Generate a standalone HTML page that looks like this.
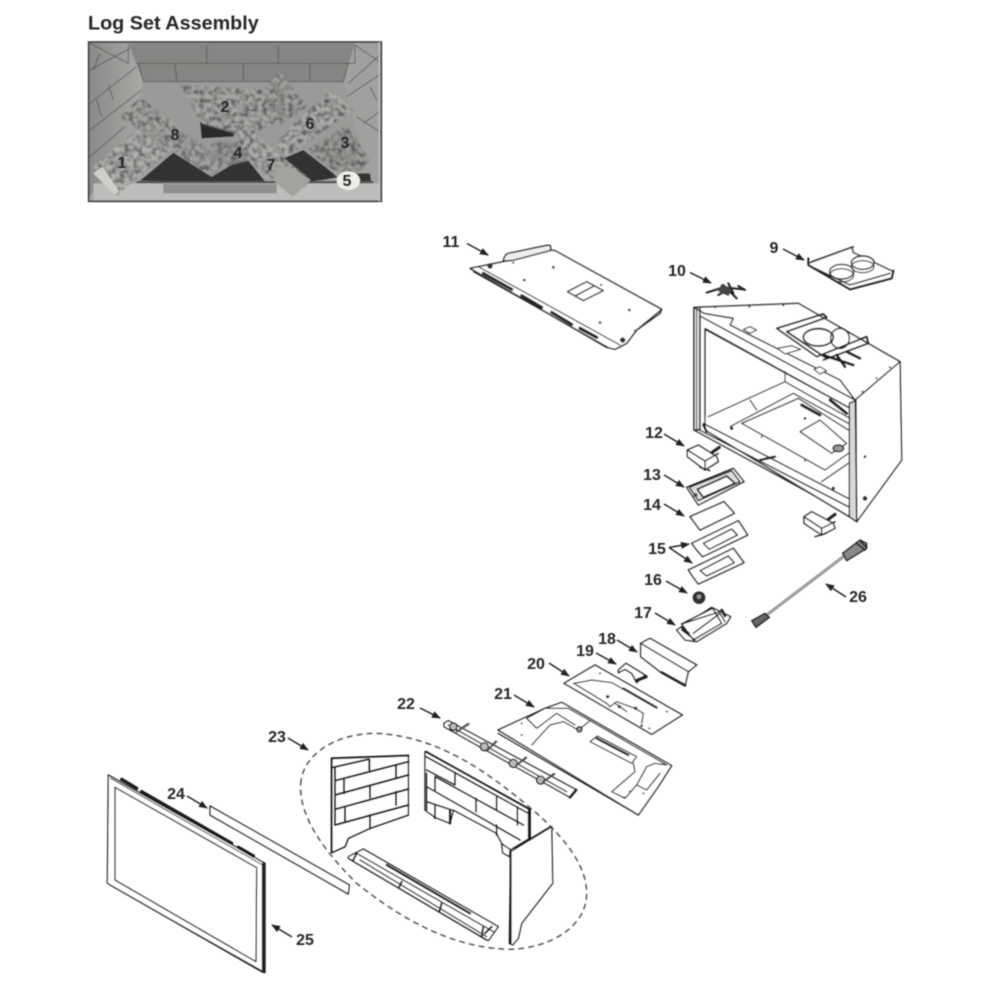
<!DOCTYPE html>
<html><head><meta charset="utf-8"><style>
html,body{margin:0;padding:0;background:#fff}
svg{display:block}
text{font-family:"Liberation Sans",sans-serif;font-weight:bold;fill:#262626}
</style></head><body>
<svg width="1000" height="1000" viewBox="0 0 1000 1000" xmlns="http://www.w3.org/2000/svg">
<defs>
<filter id="b" x="-5%" y="-5%" width="110%" height="110%"><feGaussianBlur stdDeviation="0.6"/></filter>
<filter id="tb" x="-5%" y="-5%" width="110%" height="110%"><feGaussianBlur stdDeviation="0.4"/></filter>
<filter id="tex" x="0" y="0" width="100%" height="100%">
<feTurbulence type="fractalNoise" baseFrequency="0.075" numOctaves="2" seed="7" result="n"/>
<feColorMatrix in="n" type="matrix" values="0 0 0 0 0.1 0 0 0 0 0.1 0 0 0 0 0.1 3 0 0 0 -1.15" result="d"/>
<feComposite in="d" in2="SourceAlpha" operator="in" result="c"/>
<feMerge><feMergeNode in="SourceGraphic"/><feMergeNode in="c"/></feMerge>
<feGaussianBlur stdDeviation="2.2"/>
</filter>
<clipPath id="ph"><rect x="25" y="95" width="880" height="480"/></clipPath>
<marker id="a" markerWidth="9" markerHeight="7" refX="8" refY="3.5" orient="auto" markerUnits="userSpaceOnUse"><path d="M0 0L9 3.5L0 7Z" fill="#222"/></marker>
<linearGradient id="lw" x1="0" x2="1" y1="0" y2="0"><stop offset="0" stop-color="#8a8a88"/><stop offset="1" stop-color="#a8a8a6"/></linearGradient>
</defs>
<rect width="1000" height="1000" fill="#fff"/>

<g filter="url(#b)">
<!-- PHOTO -->
<g transform="translate(80,10) scale(.33333)">
<g clip-path="url(#ph)">
<rect x="25" y="95" width="880" height="480" fill="#a2a2a0"/>
<polygon points="145,100 825,100 790,215 190,215" fill="#858583"/>
<polygon points="25,95 145,100 190,215 185,420 25,560" fill="url(#lw)"/>
<polygon points="825,100 905,95 905,560 790,400 790,215" fill="#a0a09e"/>
<polygon points="190,215 790,215 860,480 130,480" fill="#9a9a98"/>
<g stroke="#4e4e4e" stroke-width="3" fill="none" opacity=".7">
<path d="M145 105V160M170 160H825M380 105V160M595 105V160M825 105V160M175 160L190 215H790L805 160M285 160L290 212M490 160V212M690 160V212"/>
<path d="M30 100L145 160M30 180L150 115M30 280L170 170M30 360L185 240M30 440L135 350M60 130L40 180M85 225L100 270M65 320L50 270"/>
<path d="M825 105L905 160M805 220L905 130M800 260L905 190M850 340L905 300M905 370L830 320M890 270L870 230"/>
</g>
<polygon points="180,512 280,428 395,500 495,440 520,470 560,520" fill="#303030"/>
<polygon points="610,445 670,420 760,490 800,530 875,525 870,490 835,490 730,510 680,515" fill="#303030"/>
<polygon points="360,335 465,352 460,380 365,385" fill="#2c2c2c"/>
<rect x="170" y="513" width="710" height="8" fill="#555"/>
<rect x="40" y="520" width="860" height="50" fill="#bdbdbb"/>
<rect x="250" y="522" width="340" height="28" fill="#8f8f8d"/>
<g filter="url(#tex)">
<polygon points="300,225 560,240 595,330 510,385 365,340" fill="#a8a8a6"/>
<polygon points="555,235 600,185 680,290 600,345 550,300" fill="#a0a09e"/>
<polygon points="680,420 800,345 870,450 835,490 760,480" fill="#9c9c9a"/>
<polygon points="390,400 470,390 515,450 430,470" fill="#989896"/>
<polygon points="40,470 170,360 270,420 110,555" fill="#b0b0ae"/>
<polygon points="120,320 180,262 440,460 395,500" fill="#a4a4a2"/>
<polygon points="580,400 750,240 822,300 620,440" fill="#aeaeac"/>
<polygon points="460,370 490,345 692,510 640,560 515,460" fill="#aeaeac"/>
</g>
<polygon points="40,490 68,470 118,545 105,555" fill="#cfcfc7"/>
<polygon points="590,470 630,470 690,510 640,560 580,510" fill="#a2a29f"/>
<ellipse cx="805" cy="512" rx="35" ry="28" fill="#eeeeea"/>
</g>
<rect x="26" y="96" width="878" height="478" fill="none" stroke="#3e3e3e" stroke-width="5"/>
<path d="M898 96V574" stroke="#c4c4c4" stroke-width="4"/>
</g>

<!-- TOP PARTS (zoom 2 coords) -->
<g transform="translate(440,230) scale(.33333)" fill="#fff" stroke="#1f1f1f" stroke-width="4" stroke-linejoin="round" stroke-linecap="round">
<!-- 11 -->
<polygon points="90,115 190,95 330,60 345,62 665,238 590,300 560,340 525,358 500,352"/>
<path d="M190 93C192 78 198 72 205 70L325 45C333 45 334 55 330 62L215 92Z" fill="#eee"/>
<path d="M115 110L540 345M100 125L510 355" fill="none" stroke-width="3"/>
<path d="M130 130L215 178M245 197L305 232M335 247L395 283M420 295L470 322" fill="none" stroke="#222" stroke-width="9"/>
<polygon points="382,185 440,155 490,182 430,212" fill="#fff"/>
<path d="M405 198L462 168" fill="none"/>
<path d="M665 238L660 250L590 300" fill="none"/>
<g fill="#333" stroke="none"><circle cx="340" cy="112" r="4"/><circle cx="253" cy="150" r="4"/><circle cx="568" cy="240" r="4"/><circle cx="480" cy="278" r="4"/><circle cx="483" cy="165" r="3"/><circle cx="220" cy="98" r="3"/><circle cx="585" cy="302" r="3"/><circle cx="150" cy="108" r="8"/><circle cx="548" cy="330" r="8"/></g>

<!-- 9 -->
<path d="M1105 100L1235 52L1240 68L1360 125L1355 145L1230 178L1105 105Z"/>
<path d="M1105 85V105L1230 178L1355 145L1360 122" fill="none" stroke-width="6"/>
<ellipse cx="1205" cy="125" rx="36" ry="22"/><ellipse cx="1205" cy="136" rx="36" ry="20" fill="none" stroke-width="3"/>
<ellipse cx="1268" cy="98" rx="34" ry="20"/><ellipse cx="1268" cy="110" rx="34" ry="18" fill="none" stroke-width="3"/>
<path d="M1115 95L1240 50M1125 115L1230 165L1350 130" fill="none"/>

<!-- 10 -->
<g fill="none" stroke-width="6"><path d="M800 188L850 172L910 178M850 165L890 205M865 160L880 190M835 195L870 175M895 168L915 180"/></g>
<rect x="838" y="168" width="34" height="24" fill="#444" stroke="none" transform="rotate(25 855 180)"/>

<!-- Firebox -->
<path d="M762 232L1075 220L1380 395L1385 690L1250 875L1240 860L762 600Z"/>
<path d="M1245 510L1380 395M1248 510L1250 875" fill="none"/>
<rect x="762" y="232" width="18" height="368" fill="#e4e4e4"/>
<path d="M770 240V600" stroke-width="2.5" fill="none"/>
<polygon points="795,298 1240,540 1228,860 795,600" fill="#fff"/>
<path d="M780 258L1245 510M795 295L1240 540M790 580L1225 805M775 598L1225 830M762 232L792 250L880 265L870 285L1200 450L1230 490L1245 510M780 258V600M795 295V560" fill="none"/>
<polygon points="1228,520 1246,512 1250,875 1228,860" fill="#d8d8d8"/>
<path d="M1035 425V455M805 560L1035 455L1230 565M1060 490L870 590M1060 490L1225 580M905 580L1075 505L1225 600M905 580L1155 720L1225 670M1080 605L1140 570L1220 640L1175 670ZM930 510L950 540M1145 755L1225 700" fill="none" stroke-width="3.5"/>
<path d="M1085 525L1140 555M1170 510L1220 550" fill="none" stroke="#222" stroke-width="9"/>
<ellipse cx="1195" cy="655" rx="16" ry="10" fill="#999"/>
<path d="M790 585L800 605M960 690L1005 680" fill="none" stroke-width="7"/>
<!-- top detail -->
<path d="M1010 295L1150 252L1160 262L1040 305M1130 380L1280 320L1285 340L1150 390M1010 295L1130 380M1040 305L1160 385" fill="none" stroke-width="5"/>
<ellipse cx="1135" cy="322" rx="45" ry="26" fill="none" stroke-width="5"/><ellipse cx="1200" cy="325" rx="28" ry="30" fill="none"/>
<path d="M1150 375L1240 405M1190 375L1215 410M1220 365L1260 385" fill="none" stroke-width="8"/>
<polygon points="1012,355 1055,347 1082,358 1035,372" stroke-width="3"/>
<polygon points="910,298 930,290 950,300 930,310" stroke-width="3"/>
<polygon points="1122,418 1140,410 1160,422 1140,432" stroke-width="3"/>
<g fill="#333" stroke="none"><circle cx="825" cy="232" r="3"/><circle cx="928" cy="230" r="3"/><circle cx="1030" cy="226" r="3"/><circle cx="1350" cy="412" r="3"/><circle cx="1275" cy="680" r="4"/><circle cx="1275" cy="805" r="7"/><circle cx="1310" cy="445" r="3"/><circle cx="1268" cy="485" r="3"/><circle cx="1095" cy="565" r="4"/><circle cx="1095" cy="692" r="3"/><circle cx="965" cy="620" r="3"/><circle cx="875" cy="595" r="5"/><circle cx="1180" cy="775" r="5"/></g>

<!-- 12 -->
<path d="M742 660L775 645L830 680L835 695L795 720L742 680Z"/>
<path d="M742 660L795 693L835 670M795 693V718M780 712L810 722" fill="none"/>
<path d="M815 668L838 652" fill="none" stroke="#222" stroke-width="9"/>
<!-- 13 -->
<polygon points="740,772 880,715 912,755 775,825" />
<polygon points="748,772 875,722 900,755 775,812" fill="#ddd"/>
<polygon points="772,778 860,738 885,760 790,802" fill="#fff" stroke-width="5"/>
<circle cx="766" cy="795" r="6" fill="#444" stroke="none"/>
</g>

<!-- MIDDLE PARTS (zoom 3 coords) -->
<g transform="translate(500,500) scale(.33333)" fill="#fff" stroke="#1f1f1f" stroke-width="4" stroke-linejoin="round" stroke-linecap="round">
<!-- 14 -->
<polygon points="570,50 672,5 703,40 600,90"/>
<!-- 15 -->
<polygon points="575,130 715,62 743,105 608,170 590,150"/>
<polygon points="610,130 695,87 712,105 628,148"/>
<polygon points="565,210 700,145 732,188 595,252 580,232"/>
<polygon points="600,212 685,168 703,188 620,228"/>
<!-- 16 -->
<circle cx="597" cy="293" r="19" fill="#333" stroke="none"/>
<circle cx="597" cy="290" r="7" fill="#999" stroke="none"/>
<!-- 17 -->
<polygon points="530,390 635,322 692,350 680,370 590,425 555,420"/>
<polygon points="545,372 638,325 665,370 580,420" />
<path d="M545 372L660 335M580 400L660 340L675 365M545 390L585 420" fill="none"/>
<path d="M548 385L565 400M665 330L675 348" fill="none" stroke="#222" stroke-width="8"/>
<!-- 18 -->
<polygon points="422,430 450,415 590,495 565,515 555,558 480,515 422,470"/>
<path d="M422 430L565 515M480 515L555 555" fill="none"/>
<path d="M485 517L555 556" fill="none" stroke="#222" stroke-width="8"/>
<!-- 19 -->
<path d="M355 510L378 490L435 525L410 548L395 520L375 508L355 518Z"/>
<path d="M412 540L438 530" fill="none" stroke="#222" stroke-width="10"/>
<!-- 20 -->
<polygon points="192,550 285,495 547,645 455,703"/>
<path d="M220 550L250 545L275 540L335 548L470 625M225 552L320 610L330 620L350 605L405 625L430 640L425 670M345 610L380 635" fill="none" stroke-width="3.5"/>
<path d="M370 565L470 622" fill="none" stroke="#333" stroke-width="6"/>
<g fill="#333" stroke="none"><circle cx="323" cy="590" r="5"/><circle cx="407" cy="625" r="5"/><circle cx="358" cy="620" r="5"/><circle cx="300" cy="520" r="3"/><circle cx="500" cy="635" r="3"/><circle cx="448" cy="685" r="3"/><circle cx="425" cy="677" r="4"/></g>
<!-- 21 -->
<polygon points="-6,690 135,625 185,607 515,797 475,860 415,945"/>
<path d="M-6 700L415 945M80 655L135 625L205 625L270 662L235 690L190 665L150 675L95 735M80 655L110 685L170 640L225 675M270 662L500 795L465 790L440 800L410 855L440 870L480 820M270 725L292 708L410 770L395 790ZM400 790L405 815L335 875L375 895L410 855" fill="none" stroke-width="3.5"/>
<path d="M290 715L385 765" stroke="#222" stroke-width="7" fill="none"/>
<circle cx="238" cy="688" r="8" fill="#999"/>
<g fill="#333" stroke="none"><circle cx="65" cy="670" r="3"/><circle cx="65" cy="705" r="3"/><circle cx="390" cy="875" r="3"/><circle cx="430" cy="880" r="3"/><circle cx="372" cy="892" r="3"/></g>
<!-- 26 -->
<path d="M800 345L1030 170" fill="none" stroke="#555" stroke-width="8"/>
<path d="M800 345L1030 170" fill="none" stroke="#ccc" stroke-width="3"/>
<polygon points="1028,160 1080,120 1100,130 1100,145 1040,182" fill="#888"/>
<path d="M1070 130L1095 150M1082 125L1100 142" stroke="#222" stroke-width="5" fill="none"/>
<polygon points="755,362 795,340 808,352 768,382" fill="#666"/>
<!-- right bracket -->
<path d="M912 50L935 35L1000 70L1005 85L965 105L912 70Z"/>
<path d="M912 50L965 85L1005 65M965 85V105M945 110L978 100" fill="none"/>
<path d="M985 58L1005 43" stroke="#222" stroke-width="9" fill="none"/>
</g>

<!-- BOTTOM PARTS (zoom 4 coords) -->
<g transform="translate(90,710) scale(.33333)" fill="#fff" stroke="#1f1f1f" stroke-width="4" stroke-linejoin="round" stroke-linecap="round">
<!-- 23 dashed -->
<path d="M632 220C640 130 740 70 860 70C1050 80 1200 190 1340 310C1430 390 1490 470 1490 550C1490 650 1380 715 1260 718C1100 715 950 640 800 520C720 440 625 330 632 220Z" fill="none" stroke="#555" stroke-width="4.5" stroke-dasharray="14 16"/>
<!-- 25 -->
<polygon points="55,195 525,460 525,788 515,785 52,520"/>
<polygon points="75,232 500,473 498,755 75,510"/>
<path d="M62 205L518 465M60 525L515 782" fill="none" stroke-width="3"/>
<path d="M95 208L140 235M155 245L425 400M445 412L490 438" fill="none" stroke="#1d1d1d" stroke-width="10"/>
<path d="M520 462V785" stroke="#222" stroke-width="9" fill="none"/>
<!-- 24 -->
<polygon points="360,288 778,525 775,552 360,315"/>
<!-- 22 -->
<path d="M1062 40L1075 32L1460 240L1440 262L1062 50Z" fill="#fff"/>
<path d="M1075 45L1430 245" fill="none" stroke-width="4"/>
<g fill="#bbb"><circle cx="1090" cy="50" r="11"/><circle cx="1183" cy="110" r="12"/><circle cx="1270" cy="160" r="12"/><circle cx="1352" cy="210" r="12"/></g>
<path d="M1100 65L1135 42M1195 118L1218 95M1280 165L1308 143M1360 215L1392 192" fill="none" stroke-width="7" stroke="#555"/>
<path d="M1440 262L1458 240" stroke="#222" stroke-width="8" fill="none"/>
<!-- left brick panel -->
<polygon points="725,145 955,137 955,315 840,355 775,385 765,410 725,428"/>
<g fill="none" stroke="#161616" stroke-width="6">
<path d="M725 145L955 137M725 145V428M730 172L835 148M838 148V180M735 212L955 155M735 255L955 195M735 298L955 237M735 345L955 285M735 175V345M918 165V205M762 210V250M840 228V262M918 245V285M765 295V335M840 315V355"/>
<path d="M725 428L765 410L775 385L840 355L955 315" stroke-width="4.5"/>
</g>
<!-- back brick panel -->
<polygon points="1005,125 1320,300 1318,385 1260,420 1235,400 1220,370 1090,300 1080,340 1035,322 1005,300"/>
<g fill="none" stroke="#161616" stroke-width="5">
<path d="M1008 125L1320 298M1008 140L1315 310M1010 180L1095 225M1035 200L1300 345M1010 230L1290 390M1010 275L1085 300M1035 200V240M1095 190V225M1158 265V305M1220 260V300M1282 290V345M1220 345V375M1035 285V325M1010 190V300"/>
<path d="M1318 300V385" stroke-width="9"/>
</g>
<polygon points="1235,402 1260,418 1258,440 1238,428" />
<path d="M1080 300V340" stroke-width="7" fill="none"/>
<!-- right side panel -->
<polygon points="1262,425 1385,350 1388,520 1295,640 1285,685 1268,705 1258,700"/>
<path d="M1262 425V700M1275 415L1380 352" fill="none" stroke-width="6"/>
<!-- floor -->
<polygon points="775,440 820,417 1225,650 1195,692 775,445"/>
<path d="M800 430L1210 665M810 450L1190 680M775 445L1190 690" fill="none" stroke-width="4"/>
<path d="M890 465L1140 610" fill="none" stroke="#161616" stroke-width="7"/>
<path d="M935 515L928 530M1055 580L1048 605M1180 650L1175 680M800 430L790 450M1205 650L1185 670" fill="none" stroke-width="6"/>
</g>

<!-- Arrows real coords -->
<g stroke="#222" stroke-width="1.4" fill="none">
<path d="M467 243.5L488 255" marker-end="url(#a)"/>
<path d="M783 249L804 260" marker-end="url(#a)"/>
<path d="M690 272.5L711 283" marker-end="url(#a)"/>
<path d="M664 434L684 446" marker-end="url(#a)"/>
<path d="M664 475L684 487" marker-end="url(#a)"/>
<path d="M664 504L684 516" marker-end="url(#a)"/>
<path d="M669 547.5L689 544" marker-end="url(#a)"/>
<path d="M669 547.5L692 563" marker-end="url(#a)"/>
<path d="M666 581L687 593" marker-end="url(#a)"/>
<path d="M655 613L675 625" marker-end="url(#a)"/>
<path d="M617 640L637 652" marker-end="url(#a)"/>
<path d="M596 653L616 664" marker-end="url(#a)"/>
<path d="M549 663L569 676" marker-end="url(#a)"/>
<path d="M514 695L534 707" marker-end="url(#a)"/>
<path d="M420 708L440 718" marker-end="url(#a)"/>
<path d="M288 738L308 750" marker-end="url(#a)"/>
<path d="M187 796L207 808" marker-end="url(#a)"/>
<path d="M292 937L272 925" marker-end="url(#a)"/>
<path d="M846 597L826 584" marker-end="url(#a)"/>
</g>
</g>

<!-- Text -->
<g filter="url(#tb)">
<text x="88" y="29.5" font-size="19.8">Log Set Assembly</text>
<g font-size="16" text-anchor="middle" style="fill:#111">
<text x="122" y="168">1</text><text x="225" y="112">2</text><text x="345" y="148">3</text><text x="238" y="158">4</text><text x="347" y="186">5</text><text x="310" y="129">6</text><text x="271" y="170">7</text><text x="175" y="140">8</text>
</g>
<g font-size="16" text-anchor="middle">
<text x="774" y="253">9</text>
<text x="677" y="276">10</text>
<text x="451" y="247">11</text>
<text x="654" y="438">12</text>
<text x="652" y="480">13</text>
<text x="652" y="510">14</text>
<text x="657" y="554">15</text>
<text x="653" y="585">16</text>
<text x="643" y="618">17</text>
<text x="607" y="644">18</text>
<text x="585" y="656">19</text>
<text x="536" y="669">20</text>
<text x="503" y="699">21</text>
<text x="406" y="709">22</text>
<text x="277" y="742">23</text>
<text x="176" y="799">24</text>
<text x="305" y="945">25</text>
<text x="858" y="602">26</text>
</g>
</g>
</svg>
</body></html>
